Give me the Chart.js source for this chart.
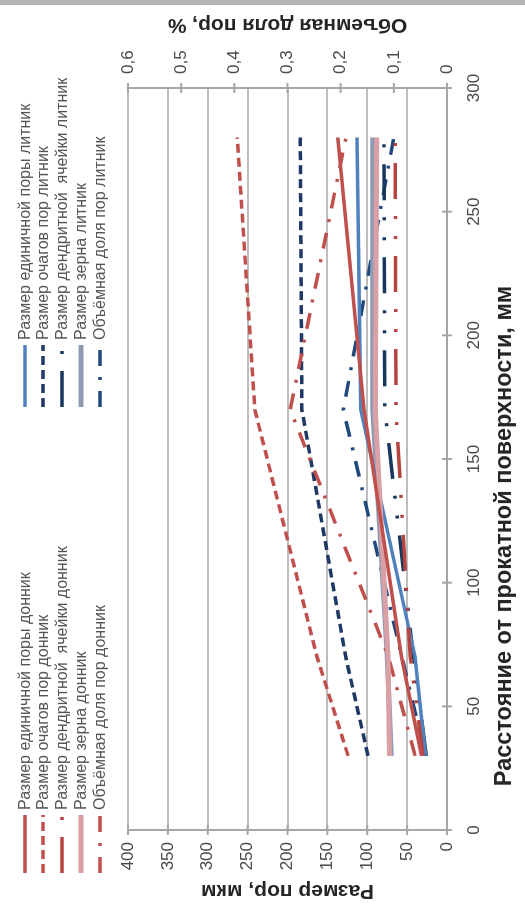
<!DOCTYPE html>
<html>
<head>
<meta charset="utf-8">
<script src="https://cdn.jsdelivr.net/npm/chart.js@4.4.1/dist/chart.umd.min.js"></script>
<style>
  html, body { margin: 0; padding: 0; background: #fff; width: 525px; height: 907px; overflow: hidden; }
  /* the chart is laid out landscape and turned a quarter turn counter-clockwise */
  #frame { position: absolute; left: 0; top: 0; width: 907px; height: 525px;
           transform-origin: 0 0; transform: translate(0, 907px) rotate(-90deg); }
  #edge { position: absolute; left: 0; top: 0; width: 525px; height: 5px; background: #b4b4b4; }
</style>
</head>
<body>
<div id="frame"><canvas id="c" width="907" height="525"></canvas></div>
<div id="edge"></div>
<script>
// distance from the rolled surface, mm
const distanceMm = [30, 70, 170, 280];

// "донник" (bottom ingot part), sizes in µm
const poreDonnik     = [32, 57, 104, 137];
const clusterDonnik  = [124, 163, 241, 263];
const dendriteDonnik = [30, 46, 64, 65];
const grainDonnik    = [72, 74, 90, 88];
// volume fraction of pores, %
const volumeDonnik   = [0.06, 0.11, 0.295, 0.19];

// "литник" (sprue part), sizes in µm
const poreLitnik     = [27, 40, 108, 113];
const clusterLitnik  = [99, 127, 182, 184];
const dendriteLitnik = [26, 42, 78, 79];
const grainLitnik    = [70, 75, 93, 93];
const volumeLitnik   = [0.04, 0.085, 0.195, 0.10];

const xTicks = [0, 50, 100, 150, 200, 250, 300];
const sizeTicks = [0, 50, 100, 150, 200, 250, 300, 350, 400];
const volumeTicks = [0, 0.1, 0.2, 0.3, 0.4, 0.5, 0.6];

const pts = arr => arr.map((v, i) => ({ x: distanceMm[i], y: v }));

const RED = '#c0504d', RED_DK = '#b5433f', PINK = '#d9a0a6';
const BLUE = '#4f81bd', NAVY = '#1f3864', NAVY2 = '#17375e', GREYBLUE = '#8f9ab5';
const DASH = [9, 5], DENDR = [36, 17, 3, 17, 3, 17], VOL = [16, 11, 3, 11];

const datasets = [
  { label: 'Размер единичной поры донник', data: pts(poreDonnik), borderColor: RED, borderWidth: 3.5, borderDash: [], yAxisID: 'y', col: 0, row: 0 },
  { label: 'Размер очагов пор донник', data: pts(clusterDonnik), borderColor: RED, borderWidth: 3.5, borderDash: DASH, yAxisID: 'y', col: 0, row: 1 },
  { label: 'Размер дендритной  ячейки донник', data: pts(dendriteDonnik), borderColor: RED_DK, borderWidth: 3.5, borderDash: DENDR, yAxisID: 'y', col: 0, row: 2 },
  { label: 'Размер зерна донник', data: pts(grainDonnik), borderColor: PINK, borderWidth: 5, borderDash: [], yAxisID: 'y', col: 0, row: 3 },
  { label: 'Объёмная доля пор донник', data: pts(volumeDonnik), borderColor: RED, borderWidth: 3.5, borderDash: VOL, yAxisID: 'y1', col: 0, row: 4 },
  { label: 'Размер единичной поры литник', data: pts(poreLitnik), borderColor: BLUE, borderWidth: 3.5, borderDash: [], yAxisID: 'y', col: 1, row: 0 },
  { label: 'Размер очагов пор литник', data: pts(clusterLitnik), borderColor: NAVY, borderWidth: 3.5, borderDash: DASH, yAxisID: 'y', col: 1, row: 1 },
  { label: 'Размер дендритной  ячейки литник', data: pts(dendriteLitnik), borderColor: NAVY2, borderWidth: 3.5, borderDash: DENDR, yAxisID: 'y', col: 1, row: 2 },
  { label: 'Размер зерна литник', data: pts(grainLitnik), borderColor: GREYBLUE, borderWidth: 5, borderDash: [], yAxisID: 'y', col: 1, row: 3 },
  { label: 'Объёмная доля пор литник', data: pts(volumeLitnik), borderColor: '#1f497d', borderWidth: 3.5, borderDash: VOL, yAxisID: 'y1', col: 1, row: 4 }
];

const FONT = '"Liberation Sans", Arial, sans-serif';
const TEXT = '#4a4a4a';

// legend, axis titles and cross tick marks
const decor = {
  id: 'decor',
  afterDraw(chart) {
    const { ctx, chartArea: a, scales } = chart;
    ctx.save();
    ctx.strokeStyle = '#a6a6a6';
    ctx.lineWidth = 2;
    ctx.setLineDash([]);
    const seg = (x1, y1, x2, y2) => { ctx.beginPath(); ctx.moveTo(x1, y1); ctx.lineTo(x2, y2); ctx.stroke(); };
    xTicks.forEach(v => { const p = scales.x.getPixelForValue(v); seg(p, a.bottom - 5, p, a.bottom + 5); });
    sizeTicks.forEach(v => { const p = scales.y.getPixelForValue(v); seg(a.left - 5, p, a.left + 5, p); });
    volumeTicks.forEach(v => { const p = scales.y1.getPixelForValue(v); seg(a.right - 5, p, a.right + 5, p); });

    // axis titles
    const midY = (a.top + a.bottom) / 2;
    ctx.fillStyle = '#262626';
    ctx.font = 'bold 21px ' + FONT;
    ctx.textAlign = 'center';
    ctx.textBaseline = 'middle';
    const vtext = (s, x, y) => { ctx.save(); ctx.translate(x, y); ctx.rotate(-Math.PI / 2); ctx.fillText(s, 0, 0); ctx.restore(); };
    vtext('Размер пор, мкм', 16, midY);
    vtext('Объемная доля пор, %', 882, midY);
    ctx.font = 'bold 23.5px ' + FONT;
    ctx.fillText('Расстояние от прокатной поверхности, мм', 371, 505);

    // legend in two columns
    const cols = [{ x0: 34, x1: 92, tx: 97 }, { x0: 500, x1: 562, tx: 567 }];
    const rows = [25, 43, 62, 81, 100];
    ctx.font = '16px ' + FONT;
    ctx.textAlign = 'left';
    ctx.fillStyle = '#555';
    chart.data.datasets.forEach(ds => {
      const c = cols[ds.col], y = rows[ds.row];
      ctx.strokeStyle = ds.borderColor;
      ctx.lineWidth = ds.borderWidth;
      ctx.setLineDash(ds.borderDash);
      seg(c.x0, y, c.x1, y);
      ctx.setLineDash([]);
      ctx.fillText(ds.label, c.tx, y + 1);
    });
    ctx.restore();
  }
};

new Chart(document.getElementById('c'), {
  type: 'line',
  data: { datasets },
  options: {
    responsive: false,
    animation: false,
    devicePixelRatio: 1,
    layout: { padding: { top: 128, left: 0, right: 0, bottom: 0 } },
    elements: { point: { radius: 0 }, line: { tension: 0, borderCapStyle: 'butt' } },
    plugins: { legend: { display: false }, tooltip: { enabled: false } },
    scales: {
      x: {
        type: 'linear', min: 0, max: 300,
        afterBuildTicks: s => { s.ticks = xTicks.map(v => ({ value: v })); },
        afterFit: s => { s.height = 78; },
        grid: { display: false },
        border: { display: true, color: '#a6a6a6', width: 2 },
        ticks: { color: TEXT, font: { family: FONT, size: 17 }, padding: 9, maxRotation: 0 }
      },
      y: {
        position: 'left', min: 0, max: 400,
        afterBuildTicks: s => { s.ticks = sizeTicks.map(v => ({ value: v })); },
        afterFit: s => { s.width = 77; },
        grid: { color: '#bdbdbd', lineWidth: 2, drawTicks: false },
        border: { display: true, color: '#a6a6a6', width: 2 },
        ticks: { color: TEXT, font: { family: FONT, size: 17 }, padding: 12 }
      },
      y1: {
        position: 'right', min: 0, max: 0.6,
        afterBuildTicks: s => { s.ticks = volumeTicks.map(v => ({ value: v })); },
        afterFit: s => { s.width = 88; },
        grid: { display: false, drawTicks: false },
        border: { display: true, color: '#a6a6a6', width: 2 },
        ticks: { color: TEXT, font: { family: FONT, size: 17 }, padding: 14,
                 callback: v => v === 0 ? '0' : v.toFixed(1).replace('.', ',') }
      }
    }
  },
  plugins: [decor]
});
</script>
</body>
</html>
